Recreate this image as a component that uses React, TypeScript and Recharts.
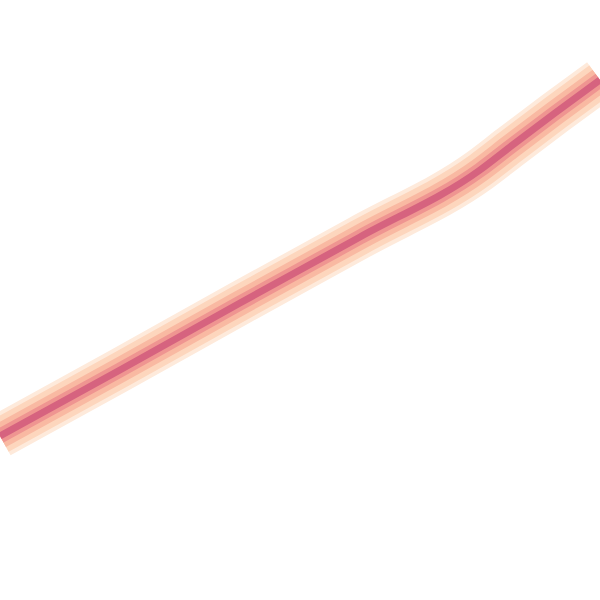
import React from "react";
import { LineChart, Line, XAxis, YAxis } from "recharts";

const xValues = [0, 120, 240, 360, 480, 510, 555, 600];
const yValues = [164, 230, 297, 363, 430, 453, 487, 520];

const data = xValues.map((x, i) => ({ x, y: yValues[i] }));

const bands = [
  { width: 44, color: "#feeadb" },
  { width: 36, color: "#fdd6bd" },
  { width: 25, color: "#f9b9a2" },
  { width: 15, color: "#ef9591" },
  { width: 7, color: "#d6637f" },
];

export default function App() {
  return (
    <div style={{ position: "fixed", left: 0, top: 0, width: 600, height: 600, background: "#fff" }}>
      <LineChart width={600} height={600} data={data} margin={{ top: 0, right: 0, bottom: 0, left: 0 }}>
        <XAxis dataKey="x" type="number" domain={[0, 600]} hide />
        <YAxis type="number" domain={[0, 600]} hide />
        {bands.map((b, i) => (
          <Line
            key={i}
            dataKey="y"
            type="monotone"
            stroke={b.color}
            strokeWidth={b.width}
            dot={false}
            activeDot={false}
            isAnimationActive={false}
            strokeLinecap="butt"
          />
        ))}
      </LineChart>
    </div>
  );
}
